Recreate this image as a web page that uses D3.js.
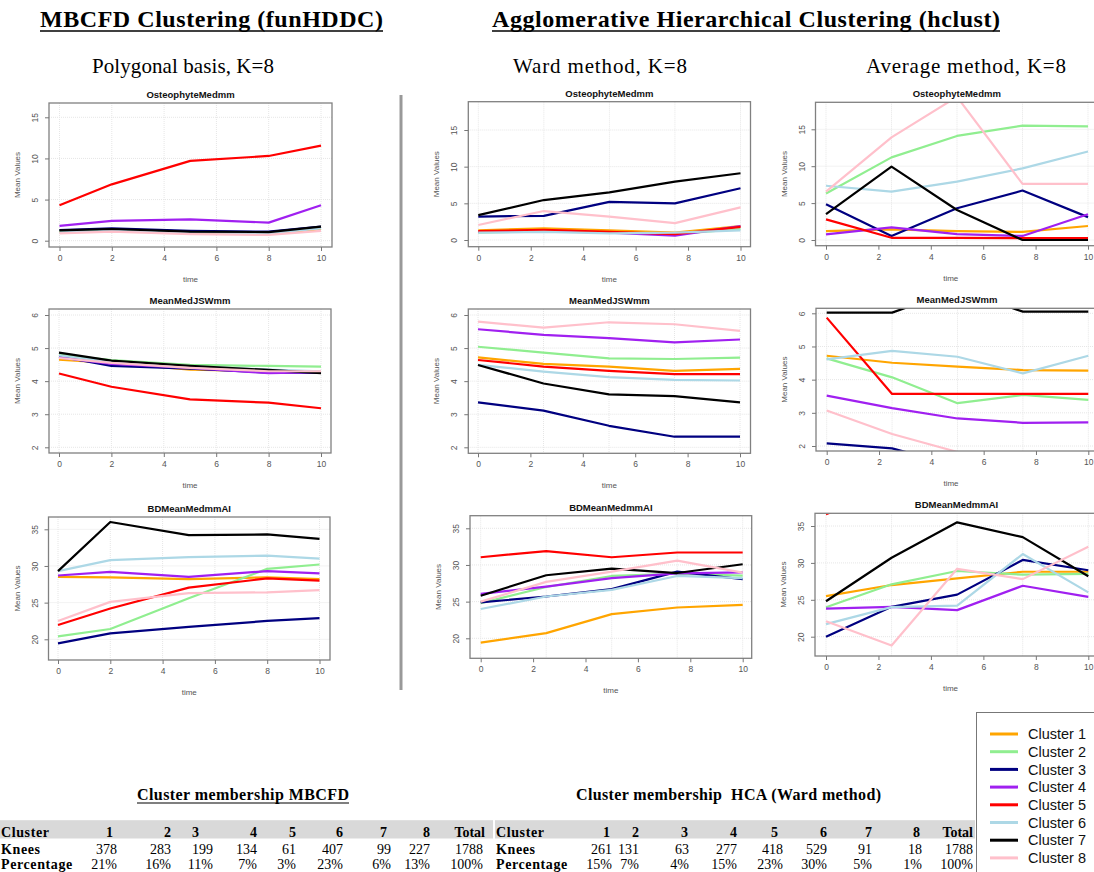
<!DOCTYPE html>
<meta charset="utf-8">
<style>
    body {
        margin: 0;
        background: #fff;
    }

    svg {
        display: block;
    }

    .axis text {
        font: 8.5px "Liberation Sans", Arial, sans-serif;
        fill: #555;
    }

    .axis line {
        stroke: #777;
    }

    .axis path {
        display: none;
    }

    .ptitle {
        font: bold 9.5px "Liberation Sans", Arial, sans-serif;
        fill: #111;
    }

    .alab {
        font: 8px "Liberation Sans", Arial, sans-serif;
        fill: #555;
    }

    .serif {
        font-family: "Liberation Serif", "Times New Roman", serif;
    }
</style>

<body>
    <script src="https://d3js.org/d3.v7.min.js"></script>
    <script>

        var clusters = ["Cluster 1", "Cluster 2", "Cluster 3", "Cluster 4", "Cluster 5", "Cluster 6", "Cluster 7", "Cluster 8"];
        var clusterColors = ["#FFA500", "#90EE90", "#000080", "#A020F0", "#FF0000", "#ADD8E6", "#000000", "#FFC0CB"];

        var timesFun = [0, 2, 5, 8, 10];
        var timesHc = [0, 2.5, 5, 7.5, 10];

        // MBCFD (funHDDC), one row per cluster 1..8
        var funOsteo = [
            [1.1, 1.3, 0.9, 0.8, 1.4],
            [1.2, 1.3, 1.1, 1.0, 1.6],
            [1.3, 1.5, 1.2, 1.1, 1.7],
            [1.8, 2.4, 2.6, 2.2, 4.3],
            [4.3, 6.85, 9.7, 10.3, 11.55],
            [1.0, 1.2, 1.0, 0.9, 1.5],
            [1.26, 1.42, 1.1, 1.05, 1.7],
            [0.9, 1.1, 0.8, 0.7, 1.2]
        ];
        var funJSW = [
            [4.65, 4.55, 4.35, 4.30, 4.28],
            [4.80, 4.64, 4.49, 4.46, 4.44],
            [4.75, 4.46, 4.38, 4.26, 4.25],
            [4.72, 4.52, 4.40, 4.24, 4.27],
            [4.23, 3.83, 3.45, 3.35, 3.18],
            [4.78, 4.58, 4.45, 4.35, 4.30],
            [4.86, 4.62, 4.46, 4.34, 4.24],
            [4.70, 4.55, 4.40, 4.30, 4.30]
        ];
        var funBD = [
            [28.5, 28.45, 28.2, 28.45, 28.2],
            [20.4, 21.4, 25.6, 29.6, 30.2],
            [19.45, 20.8, 21.7, 22.5, 22.9],
            [28.7, 29.2, 28.5, 29.3, 29.0],
            [21.95, 24.2, 27.05, 28.3, 28.0],
            [29.3, 30.8, 31.2, 31.4, 31.0],
            [29.3, 36.0, 34.2, 34.3, 33.7],
            [22.5, 25.1, 26.3, 26.4, 26.7]
        ];

        // HCA, Ward method
        var wardOsteo = [
            [1.3, 1.6, 1.3, 1.0, 1.9],
            [1.0, 1.2, 1.0, 0.8, 1.5],
            [3.2, 3.3, 5.2, 5.0, 7.05],
            [1.1, 1.3, 1.0, 0.6, 1.9],
            [1.2, 1.4, 1.1, 0.8, 1.8],
            [1.0, 1.1, 0.9, 1.0, 1.3],
            [3.4, 5.45, 6.5, 7.95, 9.1],
            [2.05, 3.95, 3.2, 2.3, 4.45]
        ];
        var wardJSW = [
            [4.72, 4.52, 4.44, 4.31, 4.37],
            [5.04, 4.86, 4.69, 4.67, 4.71],
            [3.36, 3.11, 2.65, 2.32, 2.32],
            [5.57, 5.40, 5.30, 5.17, 5.26],
            [4.64, 4.44, 4.31, 4.21, 4.21],
            [4.49, 4.29, 4.12, 4.04, 4.02],
            [4.49, 3.93, 3.60, 3.55, 3.36],
            [5.80, 5.62, 5.78, 5.72, 5.52]
        ];
        var wardBD = [
            [19.4, 20.7, 23.3, 24.2, 24.55],
            [24.8, 27.0, 28.5, 28.8, 28.55],
            [24.9, 25.7, 26.7, 29.1, 28.05],
            [26.05, 27.05, 28.2, 28.85, 29.0],
            [31.05, 31.9, 31.05, 31.7, 31.7],
            [24.0, 25.7, 26.6, 28.5, 28.2],
            [25.8, 28.6, 29.5, 28.9, 30.1],
            [25.0, 27.7, 29.1, 30.6, 28.95]
        ];

        // HCA, Average method
        var avgOsteo = [
            [1.2, 1.45, 1.2, 1.1, 1.9],
            [6.3, 11.2, 14.1, 15.5, 15.4],
            [4.85, 0.55, 4.3, 6.7, 3.1],
            [0.77, 1.72, 0.8, 0.55, 3.5],
            [2.8, 0.3, 0.3, 0.25, 0.25],
            [7.35, 6.55, 7.9, 9.7, 12.0],
            [3.5, 9.95, 4.07, 0.0, 0.0],
            [6.55, 13.9, 19.4, 7.6, 7.6]
        ];
        var avgJSW = [
            [4.72, 4.51, 4.39, 4.29, 4.27],
            [4.64, 4.07, 3.29, 3.54, 3.39],
            [2.08, 1.93, 1.4, 1.2, 1.2],
            [3.52, 3.14, 2.83, 2.70, 2.71],
            [5.87, 3.57, 3.57, 3.57, 3.57],
            [4.61, 4.87, 4.69, 4.19, 4.72],
            [6.02, 6.02, 6.72, 6.05, 6.05],
            [3.07, 2.36, 1.82, 1.5, 1.4]
        ];
        var avgBD = [
            [25.5, 27.0, 27.9, 28.8, 28.8],
            [24.0, 27.1, 28.9, 28.4, 28.5],
            [20.0, 24.05, 25.7, 30.4, 29.0],
            [23.8, 24.05, 23.6, 26.9, 25.4],
            [36.6, 40, 40, 40, 40],
            [21.7, 24.0, 24.2, 31.2, 26.0],
            [24.8, 30.7, 35.5, 33.5, 28.2],
            [22.1, 18.8, 29.2, 27.8, 32.2]
        ];

        var tableHeads = ["1", "2", "3", "4", "5", "6", "7", "8", "Total"];
        var mbcfdKnees = [378, 283, 199, 134, 61, 407, 99, 227, 1788];
        var mbcfdPct = ["21%", "16%", "11%", "7%", "3%", "23%", "6%", "13%", "100%"];
        var wardKnees = [261, 131, 63, 277, 418, 529, 91, 18, 1788];
        var wardPct = ["15%", "7%", "4%", "15%", "23%", "30%", "5%", "1%", "100%"];

        var width = 1094, height = 872;

        var svg = d3.select("body").append("svg")
            .attr("width", width)
            .attr("height", height);

        // headings
        var headings = [
            { text: "MBCFD Clustering (funHDDC)", x: 40, w: 343 },
            { text: "Agglomerative Hierarchical Clustering (hclust)", x: 492, w: 508 }
        ];
        headings.forEach(function (h) {
            svg.append("text")
                .attr("class", "serif")
                .attr("x", h.x).attr("y", 27)
                .attr("font-size", 24).attr("font-weight", "bold")
                .attr("textLength", h.w).attr("lengthAdjust", "spacing")
                .text(h.text);
            svg.append("line")
                .attr("x1", h.x).attr("x2", h.x + h.w)
                .attr("y1", 31).attr("y2", 31)
                .attr("stroke", "#000").attr("stroke-width", 1.6);
        });

        var subtitles = [
            { text: "Polygonal basis, K=8", x: 92, w: 182 },
            { text: "Ward method, K=8", x: 513, w: 174 },
            { text: "Average method, K=8", x: 866, w: 200 }
        ];
        svg.selectAll(null).data(subtitles).enter().append("text")
            .attr("class", "serif")
            .attr("x", function (d) { return d.x; })
            .attr("y", 73)
            .attr("font-size", 21)
            .attr("textLength", function (d) { return d.w; })
            .attr("lengthAdjust", "spacing")
            .text(function (d) { return d.text; });

        svg.append("line")
            .attr("x1", 401).attr("x2", 401)
            .attr("y1", 95).attr("y2", 690)
            .attr("stroke", "#999").attr("stroke-width", 3);

        // panels
        var ftx = [0, 2, 4, 6, 8, 10];
        var panels = [
            { title: "OsteophyteMedmm", times: timesFun, data: funOsteo, box: [49, 332, 103, 247], xr: [59.5, 321], yd: [0, 15], yr: [240.7, 117.3], yt: [0, 5, 10, 15], gx: ftx },
            { title: "MeanMedJSWmm", times: timesFun, data: funJSW, box: [49, 331, 309, 453], xr: [59, 321], yd: [2, 6], yr: [447.3, 315], yt: [2, 3, 4, 5, 6], gx: ftx },
            { title: "BDMeanMedmmAI", times: timesFun, data: funBD, box: [48.5, 330, 517, 660], xr: [58, 319.5], yd: [20, 35], yr: [639.3, 529.3], yt: [20, 25, 30, 35], gx: ftx },

            { title: "OsteophyteMedmm", times: timesHc, data: wardOsteo, box: [468.3, 750.5, 101.7, 246.7], xr: [478.3, 740.5], yd: [0, 15], yr: [240, 130], yt: [0, 5, 10, 15], gx: timesHc },
            { title: "MeanMedJSWmm", times: timesHc, data: wardJSW, box: [468.3, 750.5, 309, 453.3], xr: [478, 740], yd: [2, 6], yr: [447.3, 315], yt: [2, 3, 4, 5, 6], gx: timesHc },
            { title: "BDMeanMedmmAI", times: timesHc, data: wardBD, box: [470, 751.7, 515.7, 658.3], xr: [480.7, 742.7], yd: [20, 35], yr: [638.3, 528.3], yt: [20, 25, 30, 35], gx: timesHc },

            { title: "OsteophyteMedmm", times: timesHc, data: avgOsteo, box: [815.5, 1098, 102.3, 245.7], xr: [826, 1088], yd: [0, 15], yr: [240, 129.3], yt: [0, 5, 10, 15], gx: timesHc },
            { title: "MeanMedJSWmm", times: timesHc, data: avgJSW, box: [816, 1098, 308.3, 451], xr: [826.7, 1088.3], yd: [2, 6], yr: [446, 313.3], yt: [2, 3, 4, 5, 6], gx: timesHc },
            { title: "BDMeanMedmmAI", times: timesHc, data: avgBD, box: [815, 1098, 513.3, 656], xr: [826, 1088.3], yd: [20, 35], yr: [636.7, 526], yt: [20, 25, 30, 35], gx: timesHc }
        ];

        panels.forEach(function (p, pi) {
            var b = p.box;
            var x = d3.scaleLinear().domain([0, 10]).range(p.xr);
            var y = d3.scaleLinear().domain(p.yd).range(p.yr);
            var g = svg.append("g");

            g.append("clipPath").attr("id", "clip" + pi)
                .append("rect")
                .attr("x", b[0]).attr("y", b[2])
                .attr("width", b[1] - b[0]).attr("height", b[3] - b[2]);

            // grid
            g.selectAll(null).data(p.yt).enter().append("line")
                .attr("x1", b[0]).attr("x2", b[1])
                .attr("y1", function (d) { return y(d); })
                .attr("y2", function (d) { return y(d); })
                .attr("stroke", "#e6e6e6").attr("stroke-dasharray", "1,1");
            g.selectAll(null).data(p.gx).enter().append("line")
                .attr("y1", b[2]).attr("y2", b[3])
                .attr("x1", function (d) { return x(d); })
                .attr("x2", function (d) { return x(d); })
                .attr("stroke", "#e6e6e6").attr("stroke-dasharray", "1,1");

            // series
            var line = d3.line()
                .x(function (d, i) { return x(p.times[i]); })
                .y(function (d) { return y(d); });
            g.append("g").attr("clip-path", "url(#clip" + pi + ")")
                .selectAll("path").data(p.data).enter().append("path")
                .attr("d", line)
                .attr("fill", "none")
                .attr("stroke", function (d, i) { return clusterColors[i]; })
                .attr("stroke-width", 2.2)
                .attr("stroke-linejoin", "round");

            // box
            g.append("rect")
                .attr("x", b[0]).attr("y", b[2])
                .attr("width", b[1] - b[0]).attr("height", b[3] - b[2])
                .attr("fill", "none").attr("stroke", "#808080").attr("stroke-width", 1.3);

            // axes
            g.append("g").attr("class", "axis")
                .attr("transform", "translate(0," + b[3] + ")")
                .call(d3.axisBottom(x).tickValues(ftx).tickFormat(d3.format("d")).tickSize(4).tickPadding(4));

            var ya = g.append("g").attr("class", "axis")
                .attr("transform", "translate(" + b[0] + ",0)")
                .call(d3.axisLeft(y).tickValues(p.yt).tickFormat(d3.format("d")).tickSize(4).tickPadding(0));
            ya.selectAll(".tick text")
                .attr("x", 0).attr("dy", 0)
                .attr("text-anchor", "middle")
                .attr("transform", "translate(-11,0) rotate(-90)");

            g.append("text").attr("class", "ptitle")
                .attr("x", (b[0] + Math.min(b[1], 1088 + 10.5)) / 2)
                .attr("y", b[2] - 5)
                .attr("text-anchor", "middle")
                .text(p.title);

            g.append("text").attr("class", "alab")
                .attr("x", (b[0] + b[1]) / 2 - (pi >= 6 ? 6 : 0))
                .attr("y", b[3] + 35)
                .attr("text-anchor", "middle")
                .text("time");

            g.append("text").attr("class", "alab")
                .attr("transform", "translate(" + (b[0] - 29) + "," + ((b[2] + b[3]) / 2) + ") rotate(-90)")
                .attr("text-anchor", "middle")
                .text("Mean Values");
        });

        // legend
        var legend = svg.append("g");
        legend.append("rect")
            .attr("x", 976.5).attr("y", 712.5)
            .attr("width", 140).attr("height", 180)
            .attr("fill", "#fff").attr("stroke", "#777").attr("stroke-width", 1);
        var li = legend.selectAll(null).data(clusters).enter().append("g")
            .attr("transform", function (d, i) { return "translate(0," + (734 + i * 17.7) + ")"; });
        li.append("line")
            .attr("x1", 990).attr("x2", 1018)
            .attr("stroke", function (d, i) { return clusterColors[i]; })
            .attr("stroke-width", 3);
        li.append("text")
            .attr("x", 1028).attr("dy", "0.36em")
            .attr("font-family", '"Liberation Sans", Arial, sans-serif')
            .attr("font-size", 14.5)
            .attr("fill", "#111")
            .text(function (d) { return d; });

        // membership tables
        var tables = [
            {
                title: "Cluster membership MBCFD", tx: 137, tw: 212, underline: true,
                x0: 0, x1: 493, knees: mbcfdKnees, pct: mbcfdPct,
                headX: [113, 171, 199, 257, 296, 343, 387, 430, 485],
                valX: [117, 171, 213, 257, 296, 343, 391, 430, 483]
            },
            {
                title: "Cluster membership  HCA (Ward method)", tx: 576, tw: 305, underline: false,
                x0: 495, x1: 975, knees: wardKnees, pct: wardPct,
                headX: [610, 639, 688, 737, 778, 827, 872, 920, 973],
                valX: [612, 639, 689, 737, 783, 827, 872, 922, 973]
            }
        ];

        tables.forEach(function (t) {
            var g = svg.append("g").attr("class", "serif");
            g.append("text")
                .attr("x", t.tx).attr("y", 800)
                .attr("font-size", 16).attr("font-weight", "bold")
                .attr("textLength", t.tw).attr("lengthAdjust", "spacing")
                .attr("xml:space", "preserve")
                .text(t.title);
            if (t.underline) {
                g.append("line")
                    .attr("x1", t.tx).attr("x2", t.tx + t.tw)
                    .attr("y1", 803).attr("y2", 803)
                    .attr("stroke", "#000").attr("stroke-width", 1.2);
            }
            g.append("rect")
                .attr("x", t.x0).attr("y", 820.2)
                .attr("width", t.x1 - t.x0).attr("height", 18.3)
                .attr("fill", "#d9d9d9");

            var rows = [
                { label: "Cluster", y: 836.5, vals: tableHeads, xs: t.headX, bold: true },
                { label: "Knees", y: 853.5, vals: t.knees, xs: t.valX, bold: false },
                { label: "Percentage", y: 868.5, vals: t.pct, xs: t.valX, bold: false }
            ];
            rows.forEach(function (r) {
                g.append("text")
                    .attr("x", t.x0 + 1).attr("y", r.y)
                    .attr("font-size", 14).attr("font-weight", "bold")
                    .attr("letter-spacing", 0.6)
                    .text(r.label);
                g.selectAll(null).data(r.vals).enter().append("text")
                    .attr("x", function (d, i) { return r.xs[i]; })
                    .attr("y", r.y)
                    .attr("font-size", 14)
                    .attr("font-weight", r.bold ? "bold" : "normal")
                    .attr("text-anchor", "end")
                    .text(function (d) { return d; });
            });
        });

    </script>
</body>
